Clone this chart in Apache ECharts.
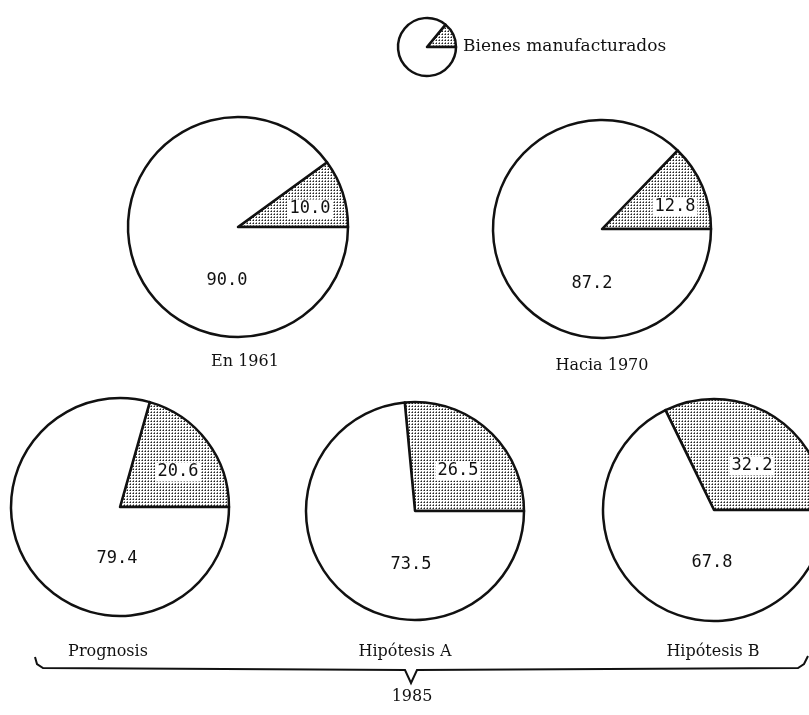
<!DOCTYPE html>
<html>
<head>
<meta charset="utf-8">
<script src="https://cdn.jsdelivr.net/npm/echarts@6/dist/echarts.min.js"></script>
<style>
  html, body { margin: 0; padding: 0; background: #fff; }
  #chart { width: 809px; height: 715px; }
</style>
</head>
<body>
<div id="chart"></div>
<script>
// shares (%) of manufactured goods vs the rest
const pieNames = ['En 1961', 'Hacia 1970', 'Prognosis', 'Hipótesis A', 'Hipótesis B']
const manufacturados = [10.0, 12.8, 20.6, 26.5, 32.2]
const otros = [90.0, 87.2, 79.4, 73.5, 67.8]
const groupLabel = '1985'
const legendLabel = 'Bienes manufacturados'
const legendSample = [14, 86]

// where each pie sits: centre, radius, label offsets from centre, caption position
const layout = [
  { c: [238, 227], r: 110, s: [72, -18], u: [-11, 54], t: [245, 362] },
  { c: [602, 229], r: 109, s: [73, -22], u: [-10, 55], t: [602, 366] },
  { c: [120, 507], r: 109, s: [58, -35], u: [-3, 52], t: [108, 652] },
  { c: [415, 511], r: 109, s: [43, -40], u: [-4, 54], t: [405, 652] },
  { c: [714, 510], r: 111, s: [38, -44], u: [-2, 53], t: [713, 652] }
]

// dotted fill like the printed screen
function dotPattern() {
  const c = document.createElement('canvas')
  c.width = 3
  c.height = 3
  const g = c.getContext('2d')
  g.fillStyle = '#fff'
  g.fillRect(0, 0, 3, 3)
  g.fillStyle = '#888'
  g.fillRect(0, 1, 1, 1)
  g.fillRect(1, 0, 1, 1)
  g.fillStyle = '#222'
  g.fillRect(1, 1, 1, 1)
  return c
}
const dots = { image: dotPattern(), repeat: 'repeat' }

const numFont = 'DejaVu Sans Mono'
const textFont = 'DejaVu Serif'

const series = pieNames.map((name, i) => {
  const l = layout[i]
  return {
    name: name,
    type: 'pie',
    center: l.c,
    radius: [0, l.r],
    startAngle: 0,
    clockwise: false,
    avoidLabelOverlap: false,
    silent: true,
    itemStyle: { borderColor: '#111', borderWidth: 2.5 },
    labelLine: { show: false },
    label: {
      position: 'center',
      fontFamily: numFont,
      fontSize: 17,
      color: '#111',
      formatter: p => p.value.toFixed(1)
    },
    data: [
      {
        value: manufacturados[i],
        name: 'Bienes manufacturados',
        itemStyle: { color: dots },
        label: { offset: l.s, backgroundColor: '#fff', padding: [2, 2, 0, 2] }
      },
      {
        value: otros[i],
        name: 'Otros',
        itemStyle: { color: '#fff' },
        label: { offset: l.u }
      }
    ]
  }
})

// small legend pie
series.push({
  name: 'leyenda',
  type: 'pie',
  center: [427, 47],
  radius: [0, 29],
  startAngle: 0,
  clockwise: false,
  silent: true,
  label: { show: false },
  labelLine: { show: false },
  itemStyle: { borderColor: '#111', borderWidth: 2.5 },
  data: [
    { value: legendSample[0], itemStyle: { color: dots } },
    { value: legendSample[1], itemStyle: { color: '#fff' } }
  ]
})

const graphics = pieNames.map((name, i) => ({
  type: 'text',
  x: layout[i].t[0],
  y: layout[i].t[1],
  style: {
    text: name,
    font: '16px "' + textFont + '"',
    fill: '#111',
    textAlign: 'center',
    textVerticalAlign: 'middle'
  }
}))

graphics.push(
  {
    type: 'text',
    x: 463,
    y: 47,
    style: {
      text: legendLabel,
      font: '17px "' + textFont + '"',
      fill: '#111',
      textAlign: 'left',
      textVerticalAlign: 'middle'
    }
  },
  {
    type: 'polyline',
    shape: {
      points: [[35, 657], [37, 664], [43, 668], [405, 670], [411, 683], [417, 670], [798, 668], [804, 664], [808, 656]]
    },
    style: { stroke: '#111', lineWidth: 2, fill: null }
  },
  {
    type: 'text',
    x: 412,
    y: 697,
    style: {
      text: groupLabel,
      font: '16px "' + textFont + '"',
      fill: '#111',
      textAlign: 'center',
      textVerticalAlign: 'middle'
    }
  }
)

const chart = echarts.init(document.getElementById('chart'))
chart.setOption({
  animation: false,
  backgroundColor: '#fff',
  series: series,
  graphic: graphics
})
window.addEventListener('resize', () => chart.resize())
</script>
</body>
</html>
